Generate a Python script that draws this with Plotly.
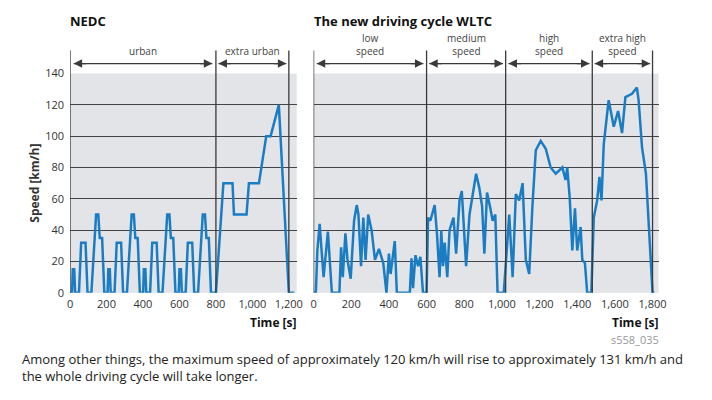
import plotly.graph_objects as go

# NEDC speed profile (s, km/h)
nedc_t = [0, 11, 15, 23, 28, 49, 61, 85, 96, 117, 143, 155, 163, 176, 188,
          195, 206, 210, 218, 223, 244, 256, 280, 291, 312, 338, 350, 358, 371, 383,
          390, 401, 405, 413, 418, 439, 451, 475, 486, 507, 533, 545, 553, 566, 578,
          585, 596, 600, 608, 613, 634, 646, 670, 681, 702, 728, 740, 748, 761, 773,
          780, 800, 841, 891, 899, 968, 981, 1036, 1076, 1100, 1145, 1200, 1230]
nedc_v = [0, 0, 15, 15, 0, 0, 32, 32, 0, 0, 50, 50, 35, 35, 0,
          0, 0, 15, 15, 0, 0, 32, 32, 0, 0, 50, 50, 35, 35, 0,
          0, 0, 15, 15, 0, 0, 32, 32, 0, 0, 50, 50, 35, 35, 0,
          0, 0, 15, 15, 0, 0, 32, 32, 0, 0, 50, 50, 35, 35, 0,
          0, 0, 70, 70, 50, 50, 70, 70, 100, 100, 120, 0, 0]

# WLTC speed profile
wltc_t = [0, 12, 20, 32, 53, 76, 97, 137, 146, 155, 169, 180, 197, 215, 229, 238,
          252, 264, 276, 290, 308, 326, 347, 370, 387, 400, 409, 431, 442, 511, 520,
          528, 541, 555, 567, 581, 600, 608, 620, 643, 655, 669, 678, 687, 696, 710,
          722, 743, 757, 775, 787, 798, 810, 828, 845, 863, 880, 895, 907, 921, 937,
          951, 965, 977, 1010, 1039, 1057, 1074, 1092, 1110, 1127, 1145, 1162, 1180,
          1206, 1233, 1259, 1286, 1321, 1338, 1347, 1360, 1374, 1388, 1400, 1418,
          1427, 1441, 1453, 1475, 1488, 1506, 1518, 1529, 1541, 1567, 1594, 1617,
          1638, 1656, 1691, 1717, 1726, 1744, 1765, 1800, 1810]
wltc_v = [0, 0, 27, 44, 10, 39, 0, 0, 29, 10, 38, 21, 9, 46, 56, 50,
          17, 48, 21, 50, 40, 21, 28, 19, 0, 25, 12, 33, 0, 0, 22,
          3, 24, 17, 23, 0, 0, 48, 46, 56, 38, 10, 40, 17, 32, 10,
          40, 48, 25, 59, 65, 40, 17, 50, 63, 76, 67, 55, 25, 64, 55,
          46, 50, 0, 0, 50, 10, 63, 59, 70, 21, 12, 55, 91,
          97, 92, 80, 76, 80, 72, 80, 61, 27, 54, 27, 42,
          21, 19, 0, 0, 48, 59, 74, 59, 95, 123, 106, 116,
          102, 125, 127, 131, 123, 93, 76, 0, 0]

nedc_phases = [("urban", 0, 800), ("extra urban", 800, 1200)]
wltc_phases = [("low<br>speed", 0, 600), ("medium<br>speed", 600, 1020),
               ("high<br>speed", 1020, 1480), ("extra high<br>speed", 1480, 1800)]

W, H = 696, 384
blue = "#1a7dc4"
dark = "#3a3a3a"
font = "Open Sans"


# map target screen pixels to paper coords (fitted to how the page gets photographed)
def xp(px):
    return ((px - 0.7) / 0.99 - 8) / W


def yp(py):
    return 1 - ((py - 7.6) / 0.964 - 8) / H


fig = go.Figure()
fig.add_trace(go.Scatter(x=nedc_t, y=nedc_v, mode="lines", line=dict(color=blue, width=2.5),
                         xaxis="x", yaxis="y", showlegend=False))
fig.add_trace(go.Scatter(x=wltc_t, y=wltc_v, mode="lines", line=dict(color=blue, width=2.5),
                         xaxis="x2", yaxis="y2", showlegend=False))

ydom = [yp(293), yp(73)]
axis_common = dict(showline=False, zeroline=False, ticks="", tickformat=",d", ticklabelstandoff=3,
                   tickfont=dict(size=11, color="#333"), showgrid=False)
yaxis_common = dict(range=[0, 140], dtick=20, showgrid=True, gridcolor="#444", gridwidth=1,
                    zeroline=False, domain=ydom, tickfont=dict(size=11, color="#333"),
                    ticklabelstandoff=5)

fig.update_layout(
    width=W, height=H, margin=dict(l=0, r=0, t=0, b=0),
    paper_bgcolor="white", plot_bgcolor="#e2e4e8",
    font=dict(family=font, color="#333"),
    xaxis=dict(domain=[xp(68), xp(296)], range=[0, 1243], tickvals=[0, 200, 400, 600, 800, 1000, 1200],
               **axis_common),
    yaxis=dict(title=dict(text="<b>Speed [km/h]</b>", font=dict(size=12), standoff=2), **yaxis_common),
    xaxis2=dict(domain=[xp(313), xp(660)], range=[0, 1832], anchor="y2",
                tickvals=[0, 200, 400, 600, 800, 1000, 1200, 1400, 1600, 1800], **axis_common),
    yaxis2=dict(anchor="x2", showticklabels=False, **yaxis_common),
)

shapes, anns = [], []
for xr, phases in (("x", nedc_phases), ("x2", wltc_phases)):
    bounds = sorted({p[1] for p in phases} | {p[2] for p in phases})
    for b in bounds:
        shapes.append(dict(type="line", xref=xr, yref="paper", x0=b, x1=b,
                           y0=yp(293), y1=yp(50), line=dict(color=dark, width=1.3)))
    for label, a, b in phases:
        pad = (b - a) * 0.015 + 8
        shapes.append(dict(type="line", xref=xr, yref="paper", x0=a + pad, x1=b - pad,
                           y0=yp(63), y1=yp(63), line=dict(color=dark, width=1.3)))
        for tip, off in ((b - pad, -14), (a + pad, 14)):
            anns.append(dict(xref=xr, yref="paper", x=tip, y=yp(63), ax=off, ay=0, text="",
                             showarrow=True, arrowhead=2, arrowsize=1.3, arrowwidth=1.3,
                             arrowcolor=dark))
        anns.append(dict(xref=xr, yref="paper", x=(a + b) / 2, y=yp(59), yanchor="bottom",
                         text=label, showarrow=False, font=dict(size=10, color="#444")))

anns += [
    dict(xref="paper", yref="paper", x=xp(66), y=yp(9), xanchor="left", yanchor="top",
         text="<b>NEDC</b>", showarrow=False, font=dict(size=13, color="#111")),
    dict(xref="paper", yref="paper", x=xp(311), y=yp(9), xanchor="left", yanchor="top",
         text="<b>The new driving cycle WLTC</b>", showarrow=False, font=dict(size=13, color="#111")),
    dict(xref="paper", yref="paper", x=xp(298), y=yp(312), xanchor="right", yanchor="top",
         text="<b>Time [s]</b>", showarrow=False, font=dict(size=12, color="#111")),
    dict(xref="paper", yref="paper", x=xp(662), y=yp(312), xanchor="right", yanchor="top",
         text="<b>Time [s]</b>", showarrow=False, font=dict(size=12, color="#111")),
    dict(xref="paper", yref="paper", x=xp(662), y=yp(330), xanchor="right", yanchor="top",
         text="s558_035", showarrow=False, font=dict(size=11, color="#999")),
    dict(xref="paper", yref="paper", x=xp(18), y=yp(348), xanchor="left", yanchor="top", align="left",
         text="Among other things, the maximum speed of approximately 120 km/h will rise to approximately 131 km/h and<br>the whole driving cycle will take longer.",
         showarrow=False, font=dict(size=13, color="#222")),
]
fig.update_layout(shapes=shapes, annotations=anns)

fig.write_html("out.html")
